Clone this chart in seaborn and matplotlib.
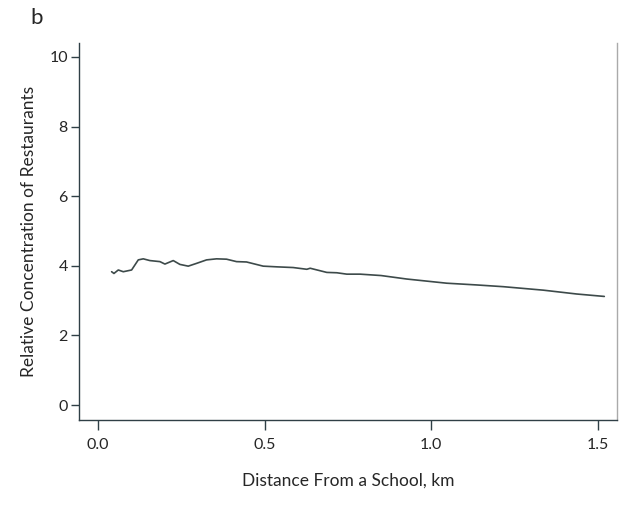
import numpy as np
import pandas as pd
import seaborn as sns
import matplotlib.pyplot as plt

# distance from school (km) and relative concentration
distance = [0.041, 0.048, 0.061, 0.076, 0.101, 0.121, 0.136, 0.156, 0.186, 0.201,
            0.226, 0.246, 0.271, 0.296, 0.326, 0.356, 0.386, 0.416, 0.446, 0.496,
            0.537, 0.586, 0.627, 0.637, 0.687, 0.717, 0.747, 0.787, 0.85, 0.927,
            0.977, 1.047, 1.137, 1.217, 1.337, 1.437, 1.52]
concentration = [3.83, 3.78, 3.88, 3.83, 3.88, 4.17, 4.20, 4.15, 4.12, 4.05,
                 4.15, 4.04, 3.99, 4.07, 4.17, 4.20, 4.19, 4.12, 4.11, 3.99,
                 3.97, 3.95, 3.90, 3.93, 3.81, 3.80, 3.76, 3.76, 3.72, 3.62,
                 3.57, 3.50, 3.45, 3.40, 3.30, 3.19, 3.12]
xticks = [0.0, 0.5, 1.0, 1.5]
yticks = [0, 2, 4, 6, 8, 10]

df = pd.DataFrame({"distance": distance, "concentration": concentration})

sns.set_style("ticks")
plt.rcParams['font.family'] = ['Lato', 'DejaVu Sans']

fig = plt.figure(figsize=(6.4, 5.17), dpi=100)
ax = fig.add_axes([0.1234, 0.1876, 0.8406, 0.7292])

sns.lineplot(data=df, x="distance", y="concentration", ax=ax,
             color="#3d4a4a", linewidth=1.2)

ax.set_xlim(-0.057, 1.558)
ax.set_ylim(-0.43, 10.4)
ax.set_xticks(xticks)
ax.set_xticklabels(["0.0", "0.5", "1.0", "1.5"])
ax.set_yticks(yticks)

spine_col = "#2f3f46"
ax.spines["top"].set_visible(False)
ax.spines["left"].set_color(spine_col)
ax.spines["bottom"].set_color(spine_col)
ax.spines["right"].set_color("#aaaaaa")
for s in ax.spines.values():
    s.set_linewidth(1.0)

ax.tick_params(axis="x", length=7, width=1, color=spine_col, labelsize=11.5, pad=6)
ax.tick_params(axis="y", length=6, width=1, color=spine_col, labelsize=11.5, pad=2)

ax.set_xlabel("Distance From a School, km", fontsize=12.5, labelpad=15)
ax.set_ylabel("Relative Concentration of Restaurants", fontsize=12.5, labelpad=9)

fig.text(0.048, 0.965, "b", fontsize=16, ha="left", va="center")

fig.savefig("out.png", dpi=100)
